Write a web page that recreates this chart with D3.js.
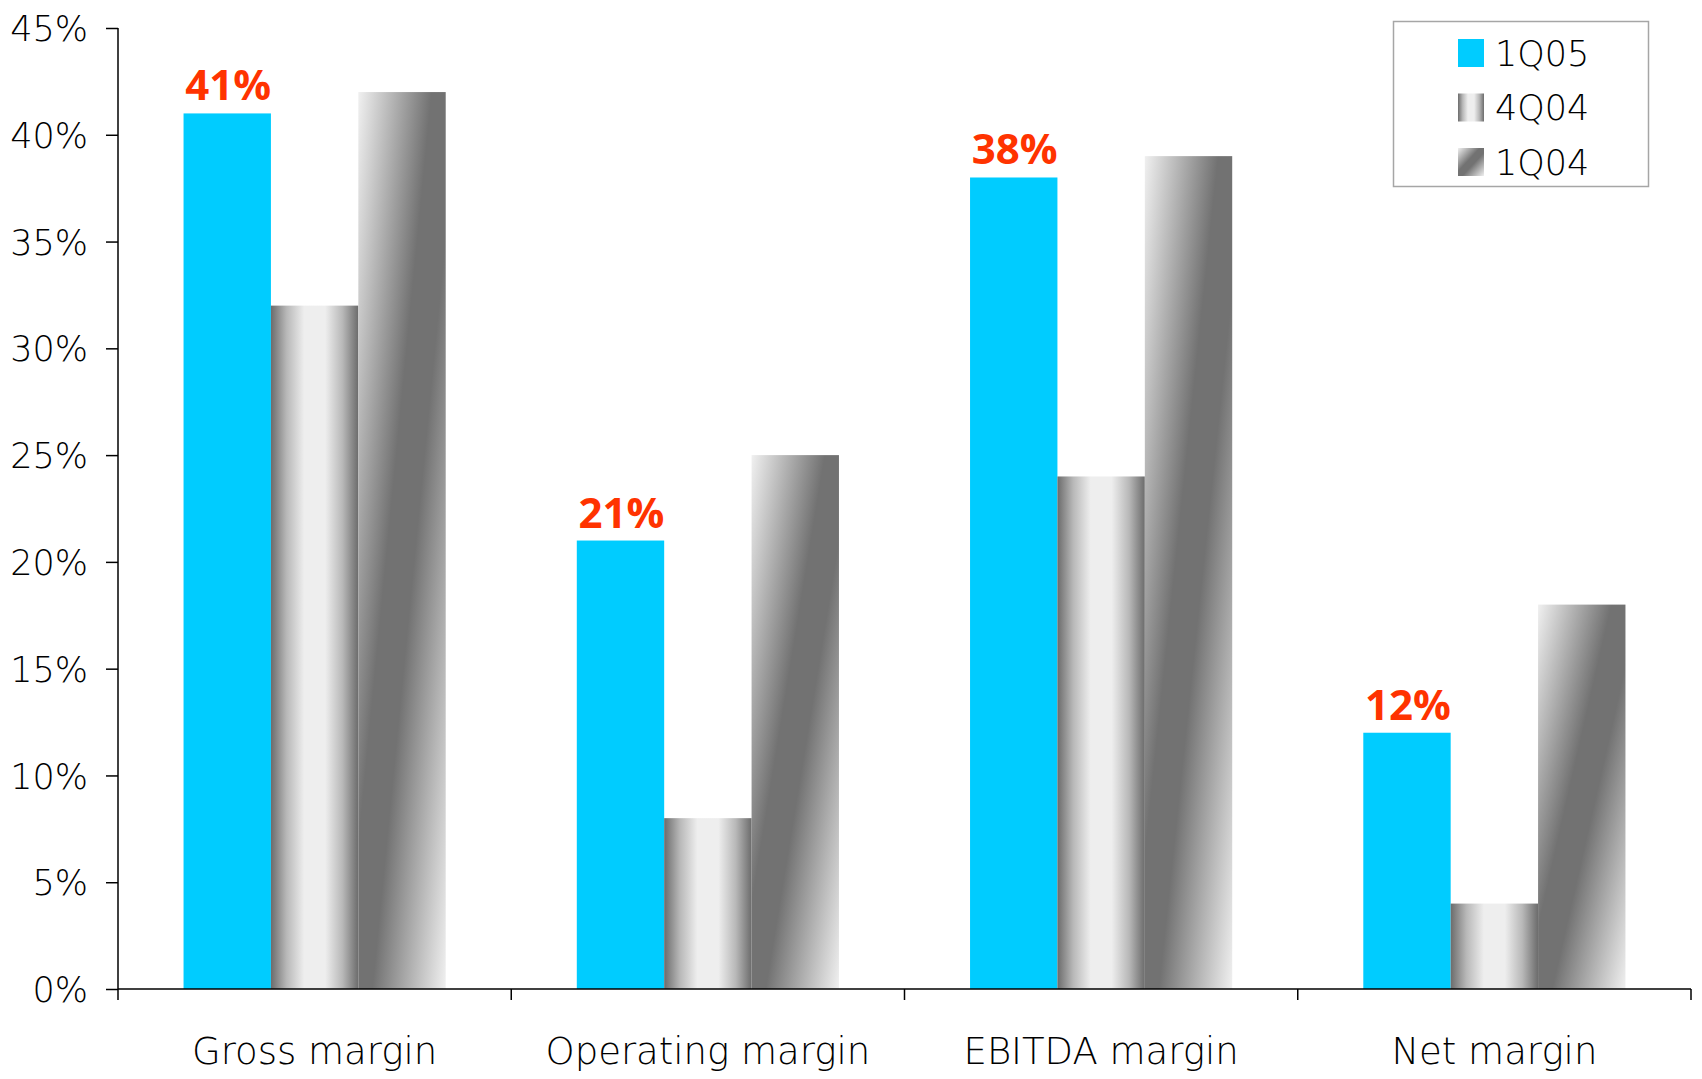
<!DOCTYPE html>
<html>
<head>
<meta charset="utf-8">
<script src="https://cdn.jsdelivr.net/npm/d3@7"></script>
<style>
  html, body { margin: 0; padding: 0; background: #ffffff; }
  svg { display: block; }
  .thin { font-family: "DejaVu Sans", sans-serif; font-weight: 300; fill: #000; }
</style>
</head>
<body>
<svg id="chart" width="1702" height="1079"></svg>
<script>
// ---- data ----
const categories = ["Gross margin", "Operating margin", "EBITDA margin", "Net margin"];
const seriesNames = ["1Q05", "4Q04", "1Q04"];
const values1Q05 = [0.41, 0.21, 0.38, 0.12];
const values4Q04 = [0.32, 0.08, 0.24, 0.04];
const values1Q04 = [0.42, 0.25, 0.39, 0.18];
const yTickValues = [0, 0.05, 0.10, 0.15, 0.20, 0.25, 0.30, 0.35, 0.40, 0.45];
const yTickLabels = ["0%", "5%", "10%", "15%", "20%", "25%", "30%", "35%", "40%", "45%"];
const labelledSeries = "1Q05";

const seriesValues = { "1Q05": values1Q05, "4Q04": values4Q04, "1Q04": values1Q04 };

// ---- layout ----
const svg = d3.select("#chart");
const plotLeft = 118, plotRight = 1691, plotTop = 28, plotBottom = 989;

const y = d3.scaleLinear().domain([0, 0.45]).range([plotBottom, plotTop]);
const x0 = d3.scaleBand().domain(categories).range([plotLeft, plotRight]).padding(0);
const x1 = d3.scaleBand().domain(seriesNames).range([0, x0.bandwidth()]).paddingInner(0).paddingOuter(0.75);

// ---- gradients ----
const defs = svg.append("defs");
const g4 = defs.append("linearGradient").attr("id", "grad4Q04")
  .attr("x1", 0).attr("y1", 0).attr("x2", 1).attr("y2", 0);
[[0, "#6c6c6c"], [0.18, "#b8b8b8"], [0.38, "#eeeeee"], [0.62, "#eeeeee"], [0.82, "#b8b8b8"], [1, "#6c6c6c"]]
  .forEach(([o, c]) => g4.append("stop").attr("offset", o).attr("stop-color", c));
const g1 = defs.append("linearGradient").attr("id", "grad1Q04")
  .attr("x1", 0).attr("y1", 0).attr("x2", 1).attr("y2", 1);
[[0, "#f0f0f0"], [0.42, "#727272"], [0.58, "#727272"], [1, "#f0f0f0"]]
  .forEach(([o, c]) => g1.append("stop").attr("offset", o).attr("stop-color", c));

const fills = { "1Q05": "#00ccff", "4Q04": "url(#grad4Q04)", "1Q04": "url(#grad1Q04)" };

// ---- bars ----
const groups = svg.append("g").selectAll("g")
  .data(categories)
  .join("g")
  .attr("transform", d => `translate(${x0(d)},0)`);

groups.selectAll("rect")
  .data((c, i) => seriesNames.map(s => ({ s, v: seriesValues[s][i] })))
  .join("rect")
  .attr("x", d => x1(d.s))
  .attr("y", d => y(d.v))
  .attr("width", x1.bandwidth())
  .attr("height", d => y(0) - y(d.v))
  .attr("fill", d => fills[d.s]);

// data labels
groups.append("text")
  .datum((c, i) => seriesValues[labelledSeries][i])
  .attr("x", x1(labelledSeries) + x1.bandwidth() / 2 + 1)
  .attr("y", d => y(d) - 13)
  .attr("text-anchor", "middle")
  .attr("font-family", "'Open Sans', sans-serif")
  .attr("font-weight", 700)
  .attr("font-size", 42)
  .attr("fill", "#ff3300")
  .text(d => d3.format(".0%")(d));

// ---- y axis ----
const yAxis = d3.axisLeft(y)
  .tickValues(yTickValues)
  .tickFormat((d, i) => yTickLabels[i])
  .tickSize(12)
  .tickPadding(18)
  .tickSizeOuter(0);
const yg = svg.append("g").attr("transform", `translate(${plotLeft},0)`).call(yAxis);
yg.select(".domain").attr("stroke", "#000").attr("stroke-width", 1.5)
  .attr("d", `M0,${plotTop}V${plotBottom + 11}`);
yg.selectAll(".tick line").attr("stroke", "#000").attr("stroke-width", 1.5);
yg.selectAll(".tick text").attr("class", "thin").attr("font-size", 35).attr("fill", "#000")
  .attr("dy", "0.36em");

// ---- x axis ----
const xg = svg.append("g");
xg.append("line")
  .attr("x1", plotLeft).attr("x2", plotRight).attr("y1", y(0)).attr("y2", y(0))
  .attr("stroke", "#000").attr("stroke-width", 1.5);
const edges = categories.map(c => x0(c)).concat([x0.range()[1]]);
xg.selectAll("line.tk").data(edges.slice(1)).join("line")
  .attr("class", "tk")
  .attr("x1", d => d).attr("x2", d => d)
  .attr("y1", y(0)).attr("y2", y(0) + 11)
  .attr("stroke", "#000").attr("stroke-width", 1.5);
xg.selectAll("text").data(categories).join("text")
  .attr("class", "thin")
  .attr("x", d => x0(d) + x0.bandwidth() / 2)
  .attr("y", 1064)
  .attr("text-anchor", "middle")
  .attr("font-size", 37)
  .text(d => d);

// ---- legend ----
const lg = svg.append("g");
lg.append("rect")
  .attr("x", 1393.5).attr("y", 21.5).attr("width", 255).attr("height", 165)
  .attr("fill", "#fff").attr("stroke", "#a6a6a6").attr("stroke-width", 1.5);
const ly = d3.scalePoint().domain(seriesNames).range([53, 162]);
const items = lg.selectAll("g.item").data(seriesNames).join("g").attr("class", "item");
items.append("rect")
  .attr("x", 1458).attr("y", d => ly(d) - 14)
  .attr("width", 26).attr("height", 28)
  .attr("fill", d => fills[d]);
items.append("text")
  .attr("class", "thin")
  .attr("x", 1495).attr("y", d => ly(d))
  .attr("dy", "0.36em")
  .attr("font-size", 35)
  .text(d => d);
</script>
</body>
</html>
